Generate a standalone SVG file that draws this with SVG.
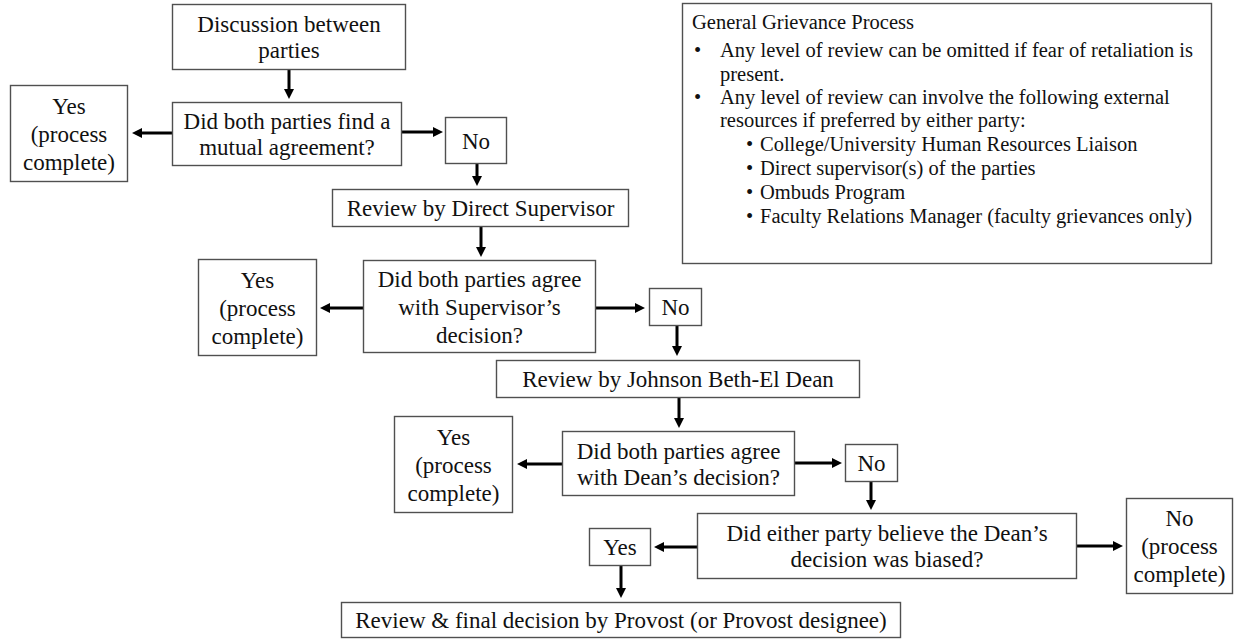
<svg xmlns="http://www.w3.org/2000/svg" width="1235" height="639" viewBox="0 0 1235 639">
<style>
.bx{fill:#fff;stroke:#505050;stroke-width:1.4}
.t{font-family:"Liberation Serif","Times New Roman",serif;font-size:23px;fill:#111;text-anchor:middle}
.p{font-family:"Liberation Serif","Times New Roman",serif;font-size:20.5px;fill:#111}
.ar{stroke:#000;stroke-width:3;fill:none;marker-end:url(#ah)}
</style>
<defs>
<marker id="ah" viewBox="0 0 10 10" markerWidth="10" markerHeight="10" markerUnits="userSpaceOnUse" refX="0" refY="5" orient="auto">
<path d="M0,0 L10,5 L0,10 z" fill="#000"/>
</marker>
</defs>
<rect width="1235" height="639" fill="#fff"/>
<g id="connectors">
<line class="ar" x1="289" y1="70" x2="289" y2="89"/>
<line class="ar" x1="172" y1="133" x2="142" y2="133"/>
<line class="ar" x1="402" y1="132" x2="433" y2="132"/>
<line class="ar" x1="477" y1="164" x2="477" y2="176"/>
<line class="ar" x1="481" y1="227" x2="481" y2="247"/>
<line class="ar" x1="363" y1="308" x2="330" y2="308"/>
<line class="ar" x1="596" y1="308" x2="635" y2="308"/>
<line class="ar" x1="677" y1="326" x2="677" y2="346"/>
<line class="ar" x1="679" y1="398" x2="679" y2="418"/>
<line class="ar" x1="562" y1="464" x2="527" y2="464"/>
<line class="ar" x1="795" y1="463" x2="832" y2="463"/>
<line class="ar" x1="871" y1="482" x2="871" y2="500"/>
<line class="ar" x1="697" y1="547" x2="664" y2="547"/>
<line class="ar" x1="1077" y1="546" x2="1113" y2="546"/>
<line class="ar" x1="621" y1="566" x2="621" y2="588"/>
</g>
<g id="discussion"><rect class="bx" x="172.5" y="4.5" width="233" height="65"/><text class="t" x="289" y="32">Discussion between</text><text class="t" x="289" y="58">parties</text></g>
<g id="q1"><rect class="bx" x="172.5" y="102.5" width="229" height="63"/><text class="t" x="287" y="129">Did both parties find a</text><text class="t" x="287" y="155">mutual agreement?</text></g>
<g id="yes1"><rect class="bx" x="10.5" y="85.5" width="117" height="96"/><text class="t" x="69" y="113.5">Yes</text><text class="t" x="69" y="141.5">(process</text><text class="t" x="69" y="169.5">complete)</text></g>
<g id="no1"><rect class="bx" x="445.5" y="117.5" width="61" height="46"/><text class="t" x="476" y="148.5">No</text></g>
<g id="review1"><rect class="bx" x="332.5" y="189.5" width="296" height="37"/><text class="t" x="480.5" y="216">Review by Direct Supervisor</text></g>
<g id="q2"><rect class="bx" x="363.5" y="260.5" width="232" height="92"/><text class="t" x="479.5" y="286.5">Did both parties agree</text><text class="t" x="479.5" y="314.5">with Supervisor’s</text><text class="t" x="479.5" y="342.5">decision?</text></g>
<g id="yes2"><rect class="bx" x="198.5" y="259.5" width="118" height="96"/><text class="t" x="257.5" y="287.5">Yes</text><text class="t" x="257.5" y="315.5">(process</text><text class="t" x="257.5" y="343.5">complete)</text></g>
<g id="no2"><rect class="bx" x="649.5" y="288.5" width="52" height="37"/><text class="t" x="675.5" y="315">No</text></g>
<g id="review2"><rect class="bx" x="496.5" y="360.5" width="363" height="37"/><text class="t" x="678" y="387">Review by Johnson Beth-El Dean</text></g>
<g id="q3"><rect class="bx" x="562.5" y="431.5" width="232" height="64"/><text class="t" x="678.5" y="458.5">Did both parties agree</text><text class="t" x="678.5" y="484.5">with Dean’s decision?</text></g>
<g id="yes3"><rect class="bx" x="394.5" y="416.5" width="118" height="96"/><text class="t" x="453.5" y="444.5">Yes</text><text class="t" x="453.5" y="472.5">(process</text><text class="t" x="453.5" y="500.5">complete)</text></g>
<g id="no3"><rect class="bx" x="845.5" y="444.5" width="52" height="37"/><text class="t" x="871.5" y="471">No</text></g>
<g id="q4"><rect class="bx" x="697.5" y="513.5" width="379" height="65"/><text class="t" x="887" y="541">Did either party believe the Dean’s</text><text class="t" x="887" y="567">decision was biased?</text></g>
<g id="yes4"><rect class="bx" x="589.5" y="528.5" width="61" height="37"/><text class="t" x="620" y="555">Yes</text></g>
<g id="no4"><rect class="bx" x="1126.5" y="498.5" width="106" height="95"/><text class="t" x="1179.5" y="526">No</text><text class="t" x="1179.5" y="554">(process</text><text class="t" x="1179.5" y="582">complete)</text></g>
<g id="provost"><rect class="bx" x="341.5" y="602.5" width="559" height="35"/><text class="t" x="621" y="628">Review &amp; final decision by Provost (or Provost designee)</text></g>
<g id="panel"><rect class="bx" x="682.5" y="3.5" width="529" height="260"/>
<text class="p" x="692" y="29">General Grievance Process</text>
<text class="p" x="694" y="57">•</text><text class="p" x="720" y="57">Any level of review can be omitted if fear of retaliation is</text>
<text class="p" x="720" y="81">present.</text>
<text class="p" x="694" y="104">•</text><text class="p" x="720" y="104">Any level of review can involve the following external</text>
<text class="p" x="720" y="127">resources if preferred by either party:</text>
<text class="p" x="746" y="151">•</text><text class="p" x="760" y="151">College/University Human Resources Liaison</text>
<text class="p" x="746" y="175">•</text><text class="p" x="760" y="175">Direct supervisor(s) of the parties</text>
<text class="p" x="746" y="199">•</text><text class="p" x="760" y="199">Ombuds Program</text>
<text class="p" x="746" y="223">•</text><text class="p" x="760" y="223">Faculty Relations Manager (faculty grievances only)</text>
</g>
</svg>
